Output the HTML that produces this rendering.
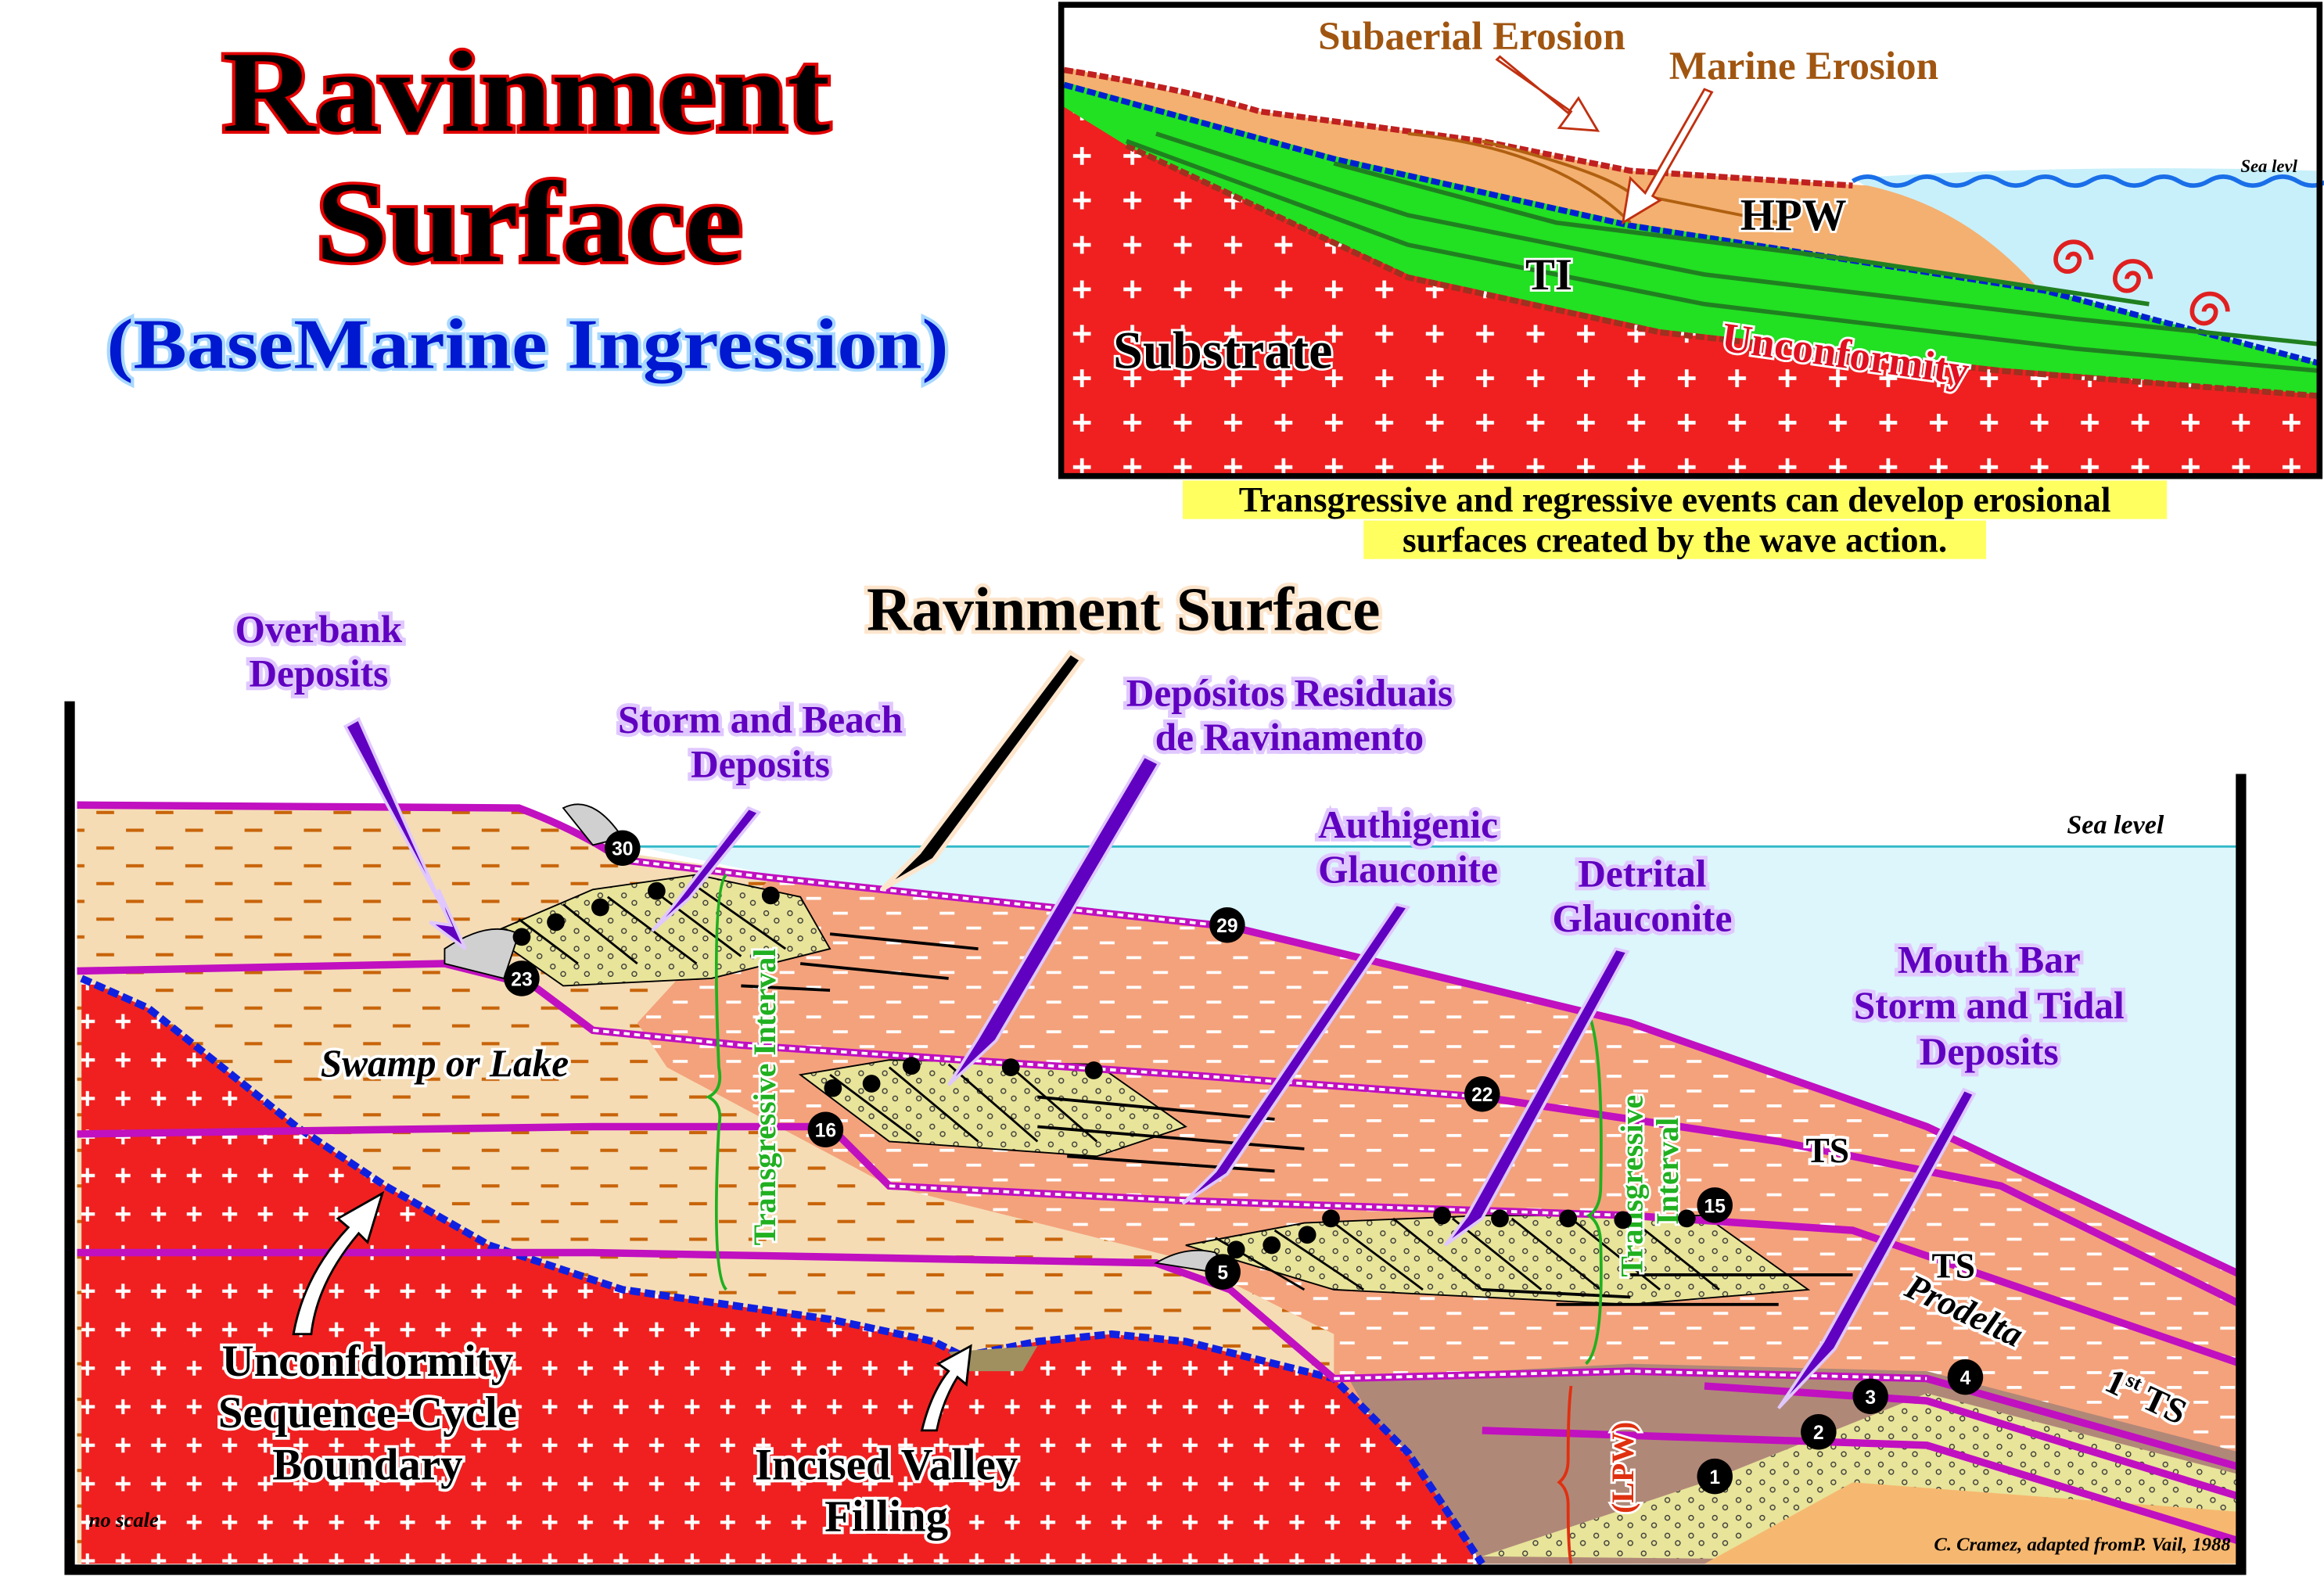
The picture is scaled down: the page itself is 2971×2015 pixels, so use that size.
<!DOCTYPE html>
<html><head><meta charset="utf-8"><style>
html,body{margin:0;padding:0;background:#fff;}
svg{display:block;}
text{font-family:"Liberation Serif",serif;font-weight:bold;}
.lbl{fill:#6000c0;stroke:#e0c8ff;stroke-width:5;paint-order:stroke;font-size:26px;text-anchor:middle;}
.blk{fill:#000;stroke:#fff;stroke-width:4;paint-order:stroke;text-anchor:middle;}
.num{fill:#fff;font-size:13px;text-anchor:middle;font-family:"Liberation Sans",sans-serif;}
</style></head><body>
<svg width="2971" height="2015" viewBox="0 0 1568 1063" xmlns="http://www.w3.org/2000/svg">
<defs>
<pattern id="plus" width="34" height="30" patternUnits="userSpaceOnUse">
<rect width="34" height="30" fill="#f02020"/>
<path d="M10 15h12M16 9v12" stroke="#fff" stroke-width="2.5"/>
</pattern>
<pattern id="plus2" width="24" height="26" patternUnits="userSpaceOnUse">
<rect width="24" height="26" fill="#f02020"/>
<path d="M6 13h10M11 8v10" stroke="#fff" stroke-width="2.2"/>
</pattern>
<pattern id="tan" width="40" height="24" patternUnits="userSpaceOnUse">
<rect width="40" height="24" fill="#f5dcb5"/>
<path d="M5 8h12M25 20h12" stroke="#c8640a" stroke-width="2.2"/>
</pattern>
<pattern id="sal" width="36" height="20" patternUnits="userSpaceOnUse">
<rect width="36" height="20" fill="#f4a27c"/>
<path d="M4 6h10M22 16h10" stroke="#fff" stroke-width="2"/>
</pattern>
<pattern id="sand" width="16" height="12" patternUnits="userSpaceOnUse">
<rect width="16" height="12" fill="#e8e49a"/>
<circle cx="5" cy="4" r="1.6" fill="none" stroke="#333" stroke-width="0.7"/>
<circle cx="12" cy="9" r="1.6" fill="none" stroke="#333" stroke-width="0.7"/>
</pattern>
</defs>

<!-- Titles -->
<text x="150" y="88" font-size="78" textLength="410" lengthAdjust="spacingAndGlyphs" fill="#000" stroke="#e00000" stroke-width="4" paint-order="stroke">Ravinment</text>
<text x="213" y="176" font-size="78" textLength="288" lengthAdjust="spacingAndGlyphs" fill="#000" stroke="#e00000" stroke-width="4" paint-order="stroke">Surface</text>
<text x="72" y="248" font-size="48" textLength="568" lengthAdjust="spacingAndGlyphs" fill="#0018d0" stroke="#a8d8ff" stroke-width="4" paint-order="stroke">(BaseMarine Ingression)</text>

<!-- Inset -->
<g>
<rect x="716" y="3" width="849" height="318" fill="#fff"/>
<path d="M1250 120 Q1400 110 1565 115 L1565 250 L1380 200 Z" fill="#c8f0fb"/>
<path d="M1250 122 q10 -6 20 0 t20 0 t20 0 t20 0 t20 0 t20 0 t20 0 t20 0 t20 0 t20 0 t20 0 t20 0 t20 0 t20 0 t20 0 t20 0" fill="none" stroke="#1a6ee8" stroke-width="3"/>
<text x="1550" y="116" font-size="12" font-style="italic" text-anchor="end">Sea levl</text>
<path d="M718 45 L850 75 L1000 95 L1100 115 L1260 125 Q1330 140 1380 200 L1250 180 L1100 150 L900 110 L718 60 Z" fill="#f4b070"/>
<path d="M718 55 L900 105 L1100 150 L1380 195 L1565 245 L1565 268 L1350 250 L1120 225 L950 190 L760 100 L718 75 Z" fill="#22e022"/>
<path d="M760 98 L950 185 L1120 222 L1350 248 L1565 266 L1565 320 L718 320 L718 72 Z" fill="url(#plus)"/>
<path d="M718 47 Q800 60 850 75 L1000 95 L1100 115 L1250 125" fill="none" stroke="#c02020" stroke-width="4" stroke-dasharray="6 2"/>
<path d="M718 57 L900 107 L1100 152 L1380 196 L1565 245" fill="none" stroke="#0020d0" stroke-width="4" stroke-dasharray="6 2"/>
<path d="M760 98 L950 187 L1120 224 L1350 250 L1565 267" fill="none" stroke="#a03020" stroke-width="4" stroke-dasharray="6 2"/>
<path d="M760 95 L950 165 L1150 205 L1400 235 L1565 250 M780 90 L950 145 L1150 185 L1400 215 L1565 232 M900 110 L1050 150 L1250 175 L1450 205" fill="none" stroke="#208020" stroke-width="3"/>
<path d="M1000 95 Q1080 115 1100 130 L1200 150 M950 90 Q1050 100 1100 150" fill="none" stroke="#b06010" stroke-width="2"/>
<text x="993" y="33" font-size="27" fill="#a05510" text-anchor="middle">Subaerial Erosion</text>
<text x="1217" y="53" font-size="27" fill="#a05510" text-anchor="middle">Marine Erosion</text>
<path d="M1010 40 L1060 75 L1052 86 L1078 88 L1065 66 L1058 76 L1012 38 Z" fill="#fff" stroke="#c03010" stroke-width="1.5"/>
<path d="M1150 60 L1110 130 L1100 120 L1095 150 L1120 135 L1115 132 L1155 62 Z" fill="#fff" stroke="#c03010" stroke-width="1.5"/>
<text x="1210" y="155" font-size="30" fill="#000" stroke="#fff" stroke-width="3" paint-order="stroke" text-anchor="middle">HPW</text>
<text x="1045" y="195" font-size="30" fill="#000" stroke="#fff" stroke-width="3" paint-order="stroke" text-anchor="middle">TI</text>
<text x="825" y="248" font-size="36" fill="#000" stroke="#fff" stroke-width="3" paint-order="stroke" text-anchor="middle">Substrate</text>
<text x="1245" y="248" font-size="28" fill="#e01020" stroke="#fff" stroke-width="3" paint-order="stroke" text-anchor="middle" transform="rotate(8 1245 240)">Unconformity</text>
<g fill="none" stroke="#e02020" stroke-width="3">
<path d="M1395 175 a4 4 0 1 1 8 0 a8 8 0 1 1 -16 0 a12 12 0 1 1 24 0"/>
<path d="M1435 188 a4 4 0 1 1 8 0 a8 8 0 1 1 -16 0 a12 12 0 1 1 24 0"/>
<path d="M1487 210 a4 4 0 1 1 8 0 a8 8 0 1 1 -16 0 a12 12 0 1 1 24 0"/>
</g>
<rect x="716" y="3" width="849" height="318" fill="none" stroke="#000" stroke-width="4"/>
</g>
<rect x="798" y="324" width="664" height="26" fill="#ffff60"/>
<rect x="920" y="351" width="420" height="26" fill="#ffff60"/>
<text x="1130" y="345" font-size="24" text-anchor="middle">Transgressive and regressive events can develop erosional</text>
<text x="1130" y="372" font-size="24" text-anchor="middle">surfaces created by the wave action.</text>

<!-- Main diagram -->
<g>
<path d="M430 571 L1512 571 L1512 860 L1300 760 L1100 690 L830 625 L520 590 Z" fill="#dcf6fb"/>
<line x1="430" y1="571" x2="1512" y2="571" stroke="#30b8c8" stroke-width="1.5"/>
<path d="M52 543 L350 545 Q390 560 420 575 L520 590 L830 625 L1100 690 L1512 860 L1512 1055 L52 1055 Z" fill="url(#tan)"/>
<path d="M520 592 L830 625 L1100 690 L1300 760 L1512 860 L1512 1055 L900 1055 L900 900 L800 850 L600 800 L450 720 L430 690 Z" fill="url(#sal)"/>
<path d="M910 930 L1100 920 L1300 925 L1512 980 L1512 1055 L980 1055 Z" fill="#b08878"/>
<path d="M1000 1050 L1150 1000 L1300 940 L1512 995 L1512 1055 Z" fill="url(#sand)"/>
<path d="M1150 1055 L1250 1000 L1512 1020 L1512 1055 Z" fill="#f6b870"/>
<path d="M330 630 L400 600 L470 590 L540 605 L560 640 L480 660 L380 665 Z" fill="url(#sand)" stroke="#000"/>
<path d="M540 725 L600 715 L740 718 L800 760 L740 780 L600 770 Z" fill="url(#sand)" stroke="#000"/>
<path d="M800 840 L880 825 L1000 820 L1150 820 L1220 870 L1100 880 L900 870 Z" fill="url(#sand)" stroke="#000"/>
<path d="M560 630 L660 640 M540 650 L640 660 M500 665 L560 668 M700 740 L860 755 M700 760 L880 775 M720 780 L860 790 M1100 860 L1250 860 M1050 880 L1200 880 M1000 870 L1100 875" stroke="#000" stroke-width="2"/>
<g stroke="#000" stroke-width="1.5"><path d="M350 620 L390 650 M380 610 L430 650 M410 605 L470 650 M440 600 L500 645 M470 598 L530 640 M560 725 L620 770 M600 720 L660 770 M640 718 L700 770 M680 718 L740 770 M820 835 L880 870 M860 830 L920 870 M900 825 L960 870 M940 822 L1000 870 M980 822 L1040 870 M1020 822 L1080 870 M1060 822 L1120 870 M1100 822 L1160 870"/></g>
<path d="M55 660 L100 680 L200 760 L260 800 L330 840 L420 870 L560 890 L630 905 L650 915 L700 905 L750 900 L800 905 L900 930 L950 980 L1000 1055 L55 1055 Z" fill="url(#plus2)"/>
<path d="M55 660 L100 680 L200 760 L260 800 L330 840 L420 870 L560 890 L630 905 L650 915 L700 905 L750 900 L800 905 L900 930 L950 980 L1000 1055" fill="none" stroke="#1020e0" stroke-width="5" stroke-dasharray="7 3"/>
<path d="M640 912 L700 908 L690 925 L650 925 Z" fill="#a09060"/>
<g fill="none" stroke="#c010c0" stroke-width="5">
<path d="M52 543 L350 545 Q390 560 420 580 L520 592 L830 625 L1100 690 L1300 760 L1512 860"/>
<path d="M52 655 L300 650 L360 665 L400 695 L500 705 L800 725 L1000 740 L1200 770 L1350 800 L1512 880"/>
<path d="M52 765 L400 760 L560 760 L600 800 L800 810 L1100 820 L1250 830 L1512 920"/>
<path d="M52 845 L400 845 L780 852 L830 870 L900 930 L1100 925 L1300 930 L1512 990"/>
<path d="M1150 935 L1300 945 L1512 1010 M1000 965 L1300 975 L1512 1040"/>
</g>
<g fill="none" stroke="#fff" stroke-width="2" stroke-dasharray="4 3">
<path d="M420 580 L520 592 L830 625"/>
<path d="M400 695 L500 705 L800 725 L1000 740"/>
<path d="M600 800 L800 810 L1100 820"/>
<path d="M900 930 L1100 925 L1300 930"/>
</g>
<path d="M300 640 Q330 620 350 630 L340 660 L300 650 Z M380 545 Q400 535 420 565 L400 570 Z M780 852 Q800 840 820 845 L830 860 Z" fill="#d0d0d0" stroke="#000"/>
<path d="M490 590 Q480 600 485 720 Q488 735 478 740 Q488 745 485 760 Q480 860 490 870" fill="none" stroke="#20b020" stroke-width="2"/>
<path d="M1070 680 Q1082 700 1080 800 Q1080 815 1072 820 Q1080 825 1080 840 Q1082 910 1070 920" fill="none" stroke="#20b020" stroke-width="2"/>
<path d="M1060 935 Q1058 950 1058 985 Q1058 995 1052 1000 Q1058 1005 1058 1015 Q1058 1045 1060 1055" fill="none" stroke="#e03010" stroke-width="2"/>
<text x="523" y="740" font-size="21" fill="#20b020" stroke="#fff" stroke-width="3" paint-order="stroke" text-anchor="middle" transform="rotate(-90 523 740)">Transgressive Interval</text>
<text x="1108" y="800" font-size="21" fill="#20b020" stroke="#fff" stroke-width="3" paint-order="stroke" text-anchor="middle" transform="rotate(-90 1108 800)">Transgressive</text>
<text x="1132" y="790" font-size="21" fill="#20b020" stroke="#fff" stroke-width="3" paint-order="stroke" text-anchor="middle" transform="rotate(-90 1132 790)">Interval</text>
<text x="1102" y="990" font-size="21" fill="#e03010" stroke="#fff" stroke-width="3" paint-order="stroke" text-anchor="middle" transform="rotate(-90 1102 990)">(LPW)</text>
<g fill="#000">
<circle cx="352" cy="632" r="6"/><circle cx="375" cy="622" r="6"/><circle cx="405" cy="612" r="6"/><circle cx="443" cy="601" r="6"/><circle cx="520" cy="604" r="6"/>
<circle cx="562" cy="734" r="6"/><circle cx="588" cy="731" r="6"/><circle cx="615" cy="719" r="6"/><circle cx="682" cy="720" r="6"/><circle cx="738" cy="722" r="6"/>
<circle cx="834" cy="843" r="6"/><circle cx="858" cy="840" r="6"/><circle cx="882" cy="833" r="6"/><circle cx="898" cy="822" r="6"/><circle cx="973" cy="820" r="6"/><circle cx="1012" cy="822" r="6"/><circle cx="1058" cy="822" r="6"/><circle cx="1095" cy="823" r="6"/><circle cx="1138" cy="822" r="6"/>
</g>
<g>
<circle cx="420" cy="572" r="12"/><text class="num" x="420" y="577">30</text>
<circle cx="828" cy="624" r="12"/><text class="num" x="828" y="629">29</text>
<circle cx="352" cy="660" r="12"/><text class="num" x="352" y="665">23</text>
<circle cx="1000" cy="738" r="12"/><text class="num" x="1000" y="743">22</text>
<circle cx="557" cy="762" r="12"/><text class="num" x="557" y="767">16</text>
<circle cx="1157" cy="813" r="12"/><text class="num" x="1157" y="818">15</text>
<circle cx="825" cy="858" r="12"/><text class="num" x="825" y="863">5</text>
<circle cx="1326" cy="929" r="12"/><text class="num" x="1326" y="934">4</text>
<circle cx="1262" cy="942" r="12"/><text class="num" x="1262" y="947">3</text>
<circle cx="1227" cy="966" r="12"/><text class="num" x="1227" y="971">2</text>
<circle cx="1157" cy="996" r="12"/><text class="num" x="1157" y="1001">1</text>
</g>
<g fill="#6000c0" stroke="#e0c8ff" stroke-width="2">
<path d="M233 490 L300 615 L296 600 L314 640 L290 622 L304 624 L242 485 Z"/>
<path d="M505 545 L455 610 L440 628 L465 606 L512 548 Z"/>
<path d="M772 510 L660 700 L640 732 L672 702 L782 515 Z"/>
<path d="M942 610 L820 790 L798 812 L828 792 L950 612 Z"/>
<path d="M1090 640 L990 820 L975 840 L1000 822 L1098 642 Z"/>
<path d="M1325 735 L1230 905 L1200 950 L1238 910 L1332 738 Z"/>
</g>
<path d="M722 440 L620 575 L595 600 L630 580 L730 445 Z" fill="#000" stroke="#fde5cc" stroke-width="3"/>
<!-- white arrows pointing up -->
<path d="M198 900 Q205 860 235 828 L228 822 L258 805 L248 838 L242 832 Q214 865 210 900 Z" fill="#fff" stroke="#000" stroke-width="1.5"/>
<path d="M622 965 Q628 940 640 925 L633 920 L655 908 L652 934 L646 929 Q636 945 632 965 Z" fill="#fff" stroke="#000" stroke-width="1.5"/>
<path d="M47 473 L47 1059 L1512 1059 L1512 522" fill="none" stroke="#000" stroke-width="7"/>
<text class="lbl" x="215" y="433">Overbank</text><text class="lbl" x="215" y="463">Deposits</text>
<text class="lbl" x="513" y="494">Storm and Beach</text><text class="lbl" x="513" y="524">Deposits</text>
<text class="lbl" x="870" y="476">Depósitos Residuais</text><text class="lbl" x="870" y="506">de Ravinamento</text>
<text class="lbl" x="950" y="565">Authigenic</text><text class="lbl" x="950" y="595">Glauconite</text>
<text class="lbl" x="1108" y="598">Detrital</text><text class="lbl" x="1108" y="628">Glauconite</text>
<text class="lbl" x="1342" y="656">Mouth Bar</text><text class="lbl" x="1342" y="687">Storm and Tidal</text><text class="lbl" x="1342" y="718">Deposits</text>
<text x="758" y="425" font-size="42" text-anchor="middle" fill="#000" stroke="#fde5cc" stroke-width="5" paint-order="stroke">Ravinment Surface</text>
<text class="blk" x="300" y="726" font-size="26" font-style="italic">Swamp or Lake</text>
<text class="blk" x="248" y="928" font-size="30">Unconfdormity</text>
<text class="blk" x="248" y="963" font-size="30">Sequence-Cycle</text>
<text class="blk" x="248" y="998" font-size="30">Boundary</text>
<text class="blk" x="598" y="998" font-size="30">Incised Valley</text>
<text class="blk" x="598" y="1033" font-size="30">Filling</text>
<text class="blk" x="1233" y="784" font-size="24">TS</text>
<text class="blk" x="1318" y="862" font-size="24">TS</text>
<text class="blk" x="1325" y="892" font-size="24" font-style="italic" transform="rotate(25 1325 885)">Prodelta</text>
<text class="blk" x="1448" y="950" font-size="24" transform="rotate(25 1448 942)">1<tspan font-size="14" dy="-9">st</tspan><tspan dy="9"> TS</tspan></text>
<text x="1460" y="562" font-size="18" font-style="italic" text-anchor="end">Sea level</text>
<text x="60" y="1030" font-size="14" font-style="italic" fill="#000">no scale</text>
<text x="1505" y="1046" font-size="13" font-style="italic" text-anchor="end" fill="#000">C. Cramez, adapted fromP. Vail, 1988</text>
</g>
</svg>
</body></html>
